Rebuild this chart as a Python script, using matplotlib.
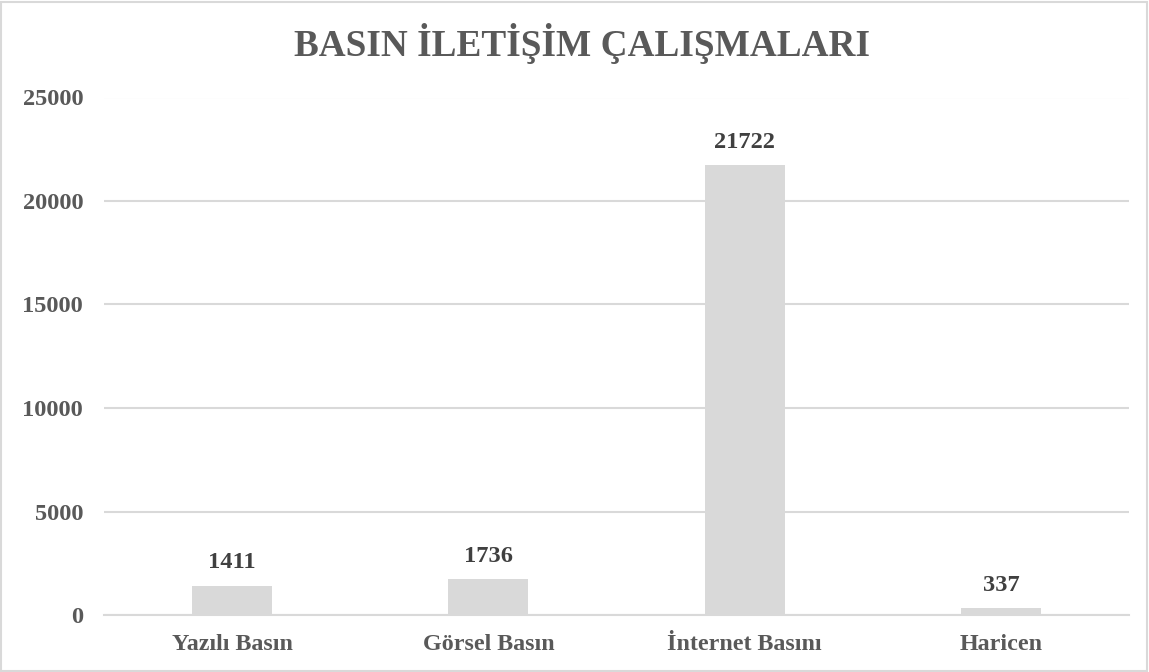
import matplotlib
matplotlib.use("Agg")
import matplotlib.pyplot as plt
from matplotlib.patches import Rectangle

categories = ["Yazılı Basın", "Görsel Basın", "İnternet Basını", "Haricen"]
values = [1411, 1736, 21722, 337]
yticks = [0, 5000, 10000, 15000, 20000, 25000]
title = "BASIN İLETİŞİM ÇALIŞMALARI"

TEXT = "#595959"
LABEL = "#404040"
BAR = "#d9d9d9"
GRID = "#d9d9d9"

plt.rcParams['font.family'] = ['Liberation Serif', 'DejaVu Serif']

W, H = 1149, 672
fig = plt.figure(figsize=(W / 100, H / 100), dpi=100)
ax = fig.add_axes([104 / W, 1 - 615 / H, (1129 - 104) / W, (615 - 97.5) / H])

x = range(len(categories))
ax.bar(x, values, width=0.3125, color=BAR, zorder=2)
ax.set_xlim(-0.5, len(categories) - 0.5)
ax.set_ylim(0, 25000)
ax.set_yticks(yticks)
ax.set_yticklabels([str(v) for v in yticks], fontsize=17.6, fontweight='bold', color=TEXT)
ax.set_xticks(list(x))
ax.set_xticklabels(categories, fontsize=17.3, fontweight='bold', color=TEXT)
ax.tick_params(axis='y', length=0, pad=15)
ax.tick_params(axis='x', length=0, pad=14)
ax.grid(axis='y', color=GRID, linewidth=1.5, zorder=0)
for s in ['top', 'right', 'left']:
    ax.spines[s].set_visible(False)
ax.spines['bottom'].set_color(GRID)
ax.spines['bottom'].set_linewidth(1.5)

for xi, v in zip(x, values):
    ax.annotate(str(v), (xi, v), xytext=(0, 9), textcoords='offset points',
                ha='center', va='bottom', fontsize=17.6, fontweight='bold', color=LABEL)

fig.text(581.5 / W, 1 - 56 / H, title, ha='center', va='baseline', fontsize=26.8,
         fontweight='bold', color=TEXT)

fig.patches.append(Rectangle((1 / W, 1 / H), 1 - 3 / W, 1 - 3 / H, transform=fig.transFigure,
                             fill=False, edgecolor=GRID, linewidth=1.5))

fig.savefig("out.png", dpi=100)
